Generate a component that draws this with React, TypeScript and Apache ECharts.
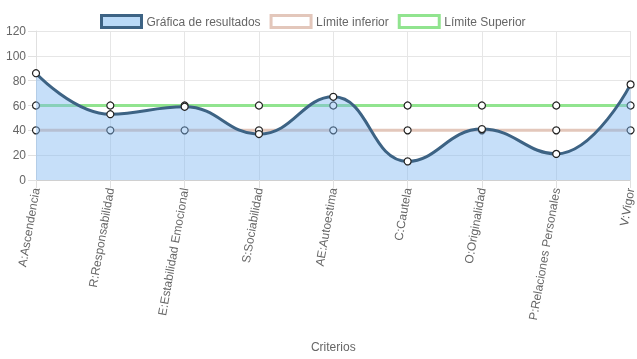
import React, { useEffect, useRef } from "react";
import * as echarts from "echarts";

const categories = [
  "A:Ascendencia",
  "R:Responsabilidad",
  "E:Estabilidad Emocional",
  "S:Sociabilidad",
  "AE:Autoestima",
  "C:Cautela",
  "O:Originalidad",
  "P:Relaciones Personales",
  "V:Vigor",
];
const resultados = [86, 53, 59, 37, 67, 15, 41, 21, 77];
const limiteInferior = [40, 40, 40, 40, 40, 40, 40, 40, 40];
const limiteSuperior = [60, 60, 60, 60, 60, 60, 60, 60, 60];
const seriesNames = ["Gráfica de resultados", "Límite inferior", "Límite Superior"];

const FONT = "'Liberation Sans', Arial, Helvetica, sans-serif";

export default function App() {
  const ref = useRef<HTMLDivElement>(null);
  useEffect(() => {
    if (!ref.current) return;
    const chart = echarts.init(ref.current, undefined, { renderer: "svg" });
    const point = {
      symbol: "circle",
      symbolSize: 7,
      showSymbol: true,
    };
    chart.setOption({
      animation: false,
      textStyle: { fontFamily: FONT },
      legend: {
        top: 9,
        left: 95,
        itemWidth: 40,
        itemHeight: 12,
        itemGap: 9,
        textStyle: { color: "#666", fontSize: 12, fontFamily: FONT },
        data: [
          {
            name: seriesNames[0],
            icon: "rect",
            itemStyle: { color: "#b9d9f7", borderColor: "#3d6384", borderWidth: 3 },
          },
          {
            name: seriesNames[1],
            icon: "rect",
            itemStyle: { color: "#ffffff", borderColor: "#e3c7bb", borderWidth: 3 },
          },
          {
            name: seriesNames[2],
            icon: "rect",
            itemStyle: { color: "#ffffff", borderColor: "#91e48f", borderWidth: 3 },
          },
        ],
      },
      grid: { left: 36, right: 4, top: 31, height: 149, containLabel: false },
      xAxis: {
        type: "category",
        data: categories,
        boundaryGap: false,
        name: "Criterios",
        nameLocation: "middle",
        nameGap: 161,
        nameTextStyle: { color: "#666", fontSize: 12, fontFamily: FONT },
        axisLine: { show: true, lineStyle: { color: "#d0d0d0", width: 1 } },
        axisTick: { show: true, length: 8, lineStyle: { color: "#e0e0e0" } },
        axisLabel: {
          rotate: 80,
          color: "#666",
          fontSize: 12,
          fontFamily: FONT,
          margin: 8,
          interval: 0,
        },
        splitLine: { show: true, lineStyle: { color: "#e6e6e6" } },
      },
      yAxis: {
        type: "value",
        min: 0,
        max: 120,
        interval: 20,
        axisLine: { show: true, lineStyle: { color: "#e0e0e0" } },
        axisTick: { show: true, length: 8, lineStyle: { color: "#e0e0e0" } },
        axisLabel: { color: "#666", fontSize: 12, fontFamily: FONT, margin: 10 },
        splitLine: { show: true, lineStyle: { color: "#e6e6e6" } },
      },
      series: [
        {
          name: seriesNames[0],
          type: "line",
          data: resultados,
          smooth: 0.45,
          z: 5,
          ...point,
          lineStyle: { color: "#3d6384", width: 3 },
          itemStyle: { color: "#ffffff", borderColor: "#222", borderWidth: 1.2 },
          areaStyle: { color: "rgba(125,182,242,0.62)", origin: "start" },
        },
        {
          name: seriesNames[1],
          type: "line",
          data: limiteInferior,
          z: 2,
          ...point,
          lineStyle: { color: "#e3c7bb", width: 3 },
          itemStyle: { color: "#ffffff", borderColor: "#222", borderWidth: 1.2 },
        },
        {
          name: seriesNames[2],
          type: "line",
          data: limiteSuperior,
          z: 2,
          ...point,
          lineStyle: { color: "#91e48f", width: 3 },
          itemStyle: { color: "#ffffff", borderColor: "#222", borderWidth: 1.2 },
        },
      ],
    });
    return () => chart.dispose();
  }, []);
  return (
    <div
      ref={ref}
      style={{ position: "fixed", left: 0, top: 0, width: 637, height: 359 }}
    />
  );
}
